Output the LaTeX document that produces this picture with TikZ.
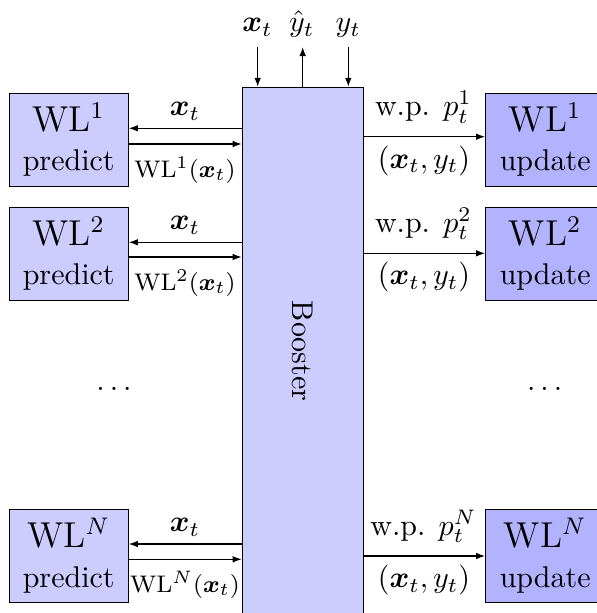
\documentclass[tikz,border=0pt]{standalone}
\usepackage{bm}
\usetikzlibrary{arrows.meta}
\begin{document}
\begin{tikzpicture}[x=0.33333pt,y=-0.33333pt,
  wlbox/.style={draw=black, rectangle, minimum width=39.67pt, minimum height=31pt, inner sep=0pt, align=center},
  pbox/.style={wlbox, fill=blue!20},
  ubox/.style={wlbox, fill=blue!30},
  arr/.style={-{Latex[length=3pt,width=2.2pt]}},
  lab/.style={anchor=base, inner sep=0pt}]
\useasboundingbox (0,0) rectangle (597,613);
\clip (0,0) rectangle (597,613);
\node[draw=black, fill=blue!20, minimum width=40.33pt, minimum height=175.9pt, inner sep=0pt,
  label={[rotate=-90]center:Booster}] (bst) at (302.8,351.2) {};
% top inputs/outputs
\node[lab] (lx) at (257.5,31.7) {$\bm{x}_t$};
\node[lab] (ly) at (301.7,31.7) {$\hat{y}_t$};
\node[lab] (lyy) at (348.3,31.7) {$y_t$};
\coordinate (tx) at (257.7,46.7);
\coordinate (ty) at (302.7,47);
\coordinate (tyy) at (348.3,46.7);
\draw[arr] (tx) -- (tx |- bst.north);
\draw[arr] (ty |- bst.north) -- (ty);
\draw[arr] (tyy) -- (tyy |- bst.north);
% rows
\foreach \s/\by/\ua/\la/\ra in {1/139.7/128.3/144/136.7, 2/253.7/242.3/257/253.3, N/555.7/544/559.3/556} {
  \node[pbox] (p\s) at (68.7,\by) {{\large WL$^{\s}$}\\[1.2pt]predict};
  \node[ubox] (u\s) at (545.2,\by) {{\large WL$^{\s}$}\\[1.2pt]update};
  \coordinate (a\s) at (0,\ua);
  \coordinate (b\s) at (0,\la);
  \coordinate (c\s) at (0,\ra);
  \draw[arr] (bst.west |- a\s) -- (p\s.east |- a\s);
  \draw[arr] (p\s.east |- b\s) -- (bst.west |- b\s);
  \draw[arr] (bst.east |- c\s) -- (u\s.west |- c\s);
  \node[lab] (xa\s) at (185,\ua-12.5) {$\bm{x}_t$};
  \node[lab, font=\footnotesize] (wa\s) at (185,\la+33) {WL$^{\s}(\bm{x}_t)$};
  \node[lab] (wp\s) at (423.5,\ra-21) {w.p. $p_t^{\s}$};
  \node[lab] (xy\s) at (424,\ra+31.5) {$(\bm{x}_t, y_t)$};
}
\node (dl) at (114,389.3) {$\ldots$};
\node (dr) at (544.7,389.3) {$\ldots$};
\end{tikzpicture}
\end{document}
